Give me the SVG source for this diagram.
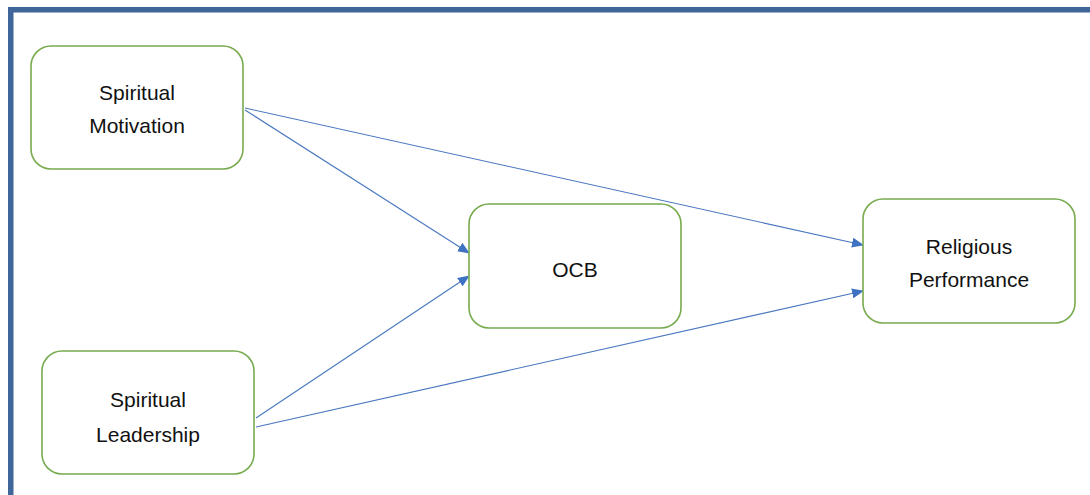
<svg xmlns="http://www.w3.org/2000/svg" width="1090" height="495" viewBox="0 0 1090 495">
<style>
.node rect{fill:#fff;stroke:#77AB4F;stroke-width:1.6}
.node text{font-family:"Liberation Sans",Arial,sans-serif;font-size:21px;fill:#111;text-anchor:middle}
.conn line{stroke:#4A78C0;stroke-width:1.1;fill:none;marker-end:url(#ah)}
</style>
<defs>
<marker id="ah" markerWidth="12" markerHeight="10" refX="11" refY="5" orient="auto" markerUnits="userSpaceOnUse">
<path d="M0,0 L12,5 L0,10 Z" fill="#3F72C2"/>
</marker>
</defs>
<rect width="1090" height="495" fill="#fff"/>
<g id="frame">
<rect x="8" y="7" width="1082" height="5.5" fill="#3F6698"/>
<rect x="8" y="7" width="5.5" height="488" fill="#3F6698"/>
</g>
<g id="connectors" class="conn">
<line x1="245" y1="110" x2="469" y2="253"/>
<line x1="245" y1="108" x2="863" y2="245"/>
<line x1="256" y1="418" x2="469" y2="276"/>
<line x1="256" y1="427" x2="863" y2="291"/>
</g>
<g id="spiritual-motivation" class="node">
<rect x="31" y="46" width="212" height="123" rx="20"/>
<text x="137" y="100">Spiritual</text>
<text x="137" y="133">Motivation</text>
</g>
<g id="ocb" class="node">
<rect x="469" y="204" width="212" height="124" rx="20"/>
<text x="575" y="277">OCB</text>
</g>
<g id="religious-performance" class="node">
<rect x="863" y="199" width="212" height="124" rx="20"/>
<text x="969" y="254">Religious</text>
<text x="969" y="287">Performance</text>
</g>
<g id="spiritual-leadership" class="node">
<rect x="42" y="351" width="212" height="123" rx="20"/>
<text x="148" y="407">Spiritual</text>
<text x="148" y="442">Leadership</text>
</g>
</svg>
